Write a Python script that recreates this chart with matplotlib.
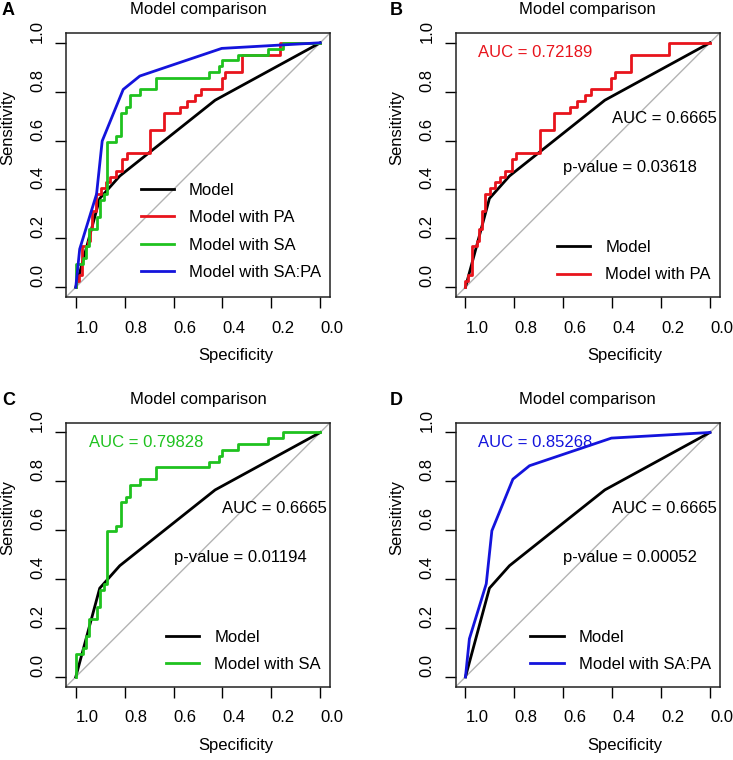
import matplotlib
matplotlib.use("Agg")
import matplotlib.pyplot as plt
from matplotlib.lines import Line2D

plt.rcParams["font.family"] = ["Liberation Sans", "DejaVu Sans"]
plt.rcParams["font.size"] = 12

# ROC curves (specificity, sensitivity)
spec_model = [1.0, 0.902, 0.82, 0.43, 0.0]
sens_model = [0.0, 0.363, 0.455, 0.765, 1.0]

# step curves: each point is the top of a vertical step
spec_pa = [1.0, 1.0, 0.988, 0.975, 0.952, 0.943, 0.933, 0.919, 0.898, 0.878, 0.858,
           0.837, 0.81, 0.792, 0.697, 0.639, 0.574, 0.544, 0.512, 0.488, 0.403,
           0.389, 0.321, 0.166, 0.0]
sens_pa = [0.0, 0.024, 0.048, 0.167, 0.190, 0.238, 0.310, 0.381, 0.405, 0.429, 0.452,
           0.476, 0.524, 0.548, 0.643, 0.714, 0.738, 0.762, 0.786, 0.810, 0.857,
           0.881, 0.952, 1.0, 1.0]

spec_sa = [1.0, 1.0, 0.972, 0.958, 0.945, 0.915, 0.901, 0.886, 0.873, 0.836, 0.816,
           0.793, 0.778, 0.737, 0.670, 0.457, 0.416, 0.402, 0.335, 0.213, 0.152, 0.0]
sens_sa = [0.0, 0.095, 0.119, 0.167, 0.238, 0.286, 0.357, 0.381, 0.595, 0.619, 0.714,
           0.738, 0.786, 0.810, 0.857, 0.881, 0.905, 0.929, 0.952, 0.976, 1.0, 1.0]

spec_sapa = [1.0, 0.984, 0.915, 0.892, 0.806, 0.738, 0.403, 0.0]
sens_sapa = [0.0, 0.156, 0.381, 0.598, 0.809, 0.864, 0.977, 1.0]

labels = ["Model", "Model with PA", "Model with SA", "Model with SA:PA"]
colors = ["black", "#e8141c", "#1fc21f", "#1414dc"]

auc_model = "0.6665"
auc_new = ["0.72189", "0.79828", "0.85268"]
p_values = ["0.03618", "0.01194", "0.00052"]

xticks = [1.0, 0.8, 0.6, 0.4, 0.2, 0.0]
yticks = [0.0, 0.2, 0.4, 0.6, 0.8, 1.0]

W, H = 733, 760
fig = plt.figure(figsize=(W / 100, H / 100), dpi=100)

# axes boxes in pixels: left, top
boxes = [(66, 33), (455.7, 33), (66, 422.7), (455.7, 422.7)]
size = 264
letters = ["A", "B", "C", "D"]

curves = [(spec_pa, sens_pa), (spec_sa, sens_sa), (spec_sapa, sens_sapa)]
steps = ["steps-post", "steps-post", "default"]


def style_axes(ax):
    ax.set_xlim(1.04, -0.04)
    ax.set_ylim(-0.04, 1.04)
    ax.axline((0, 1), (1, 0), color="#b3b3b3", lw=1, zorder=1)
    ax.set_xticks(xticks, labels=[f"{v:.1f}" for v in xticks], ha="left")
    ax.set_yticks(yticks, labels=[f"{v:.1f}" for v in yticks], rotation=90, va="bottom")
    ax.tick_params(axis="both", direction="out", length=8, width=1)
    ax.tick_params(axis="x", pad=9)
    ax.tick_params(axis="y", pad=7)
    for s in ax.spines.values():
        s.set_linewidth(1.1)
        s.set_color("#222222")
    ax.set_xlabel("Specificity", x=0.5, ha="left", labelpad=9)
    ax.set_ylabel("Sensitivity", y=0.5, ha="left", labelpad=11)
    ax.set_title("Model comparison", pad=13.5, fontsize=12)


for i, (left, top) in enumerate(boxes):
    ax = fig.add_axes([left / W, 1 - (top + size) / H, size / W, size / H])
    style_axes(ax)
    fig.text((2 if i % 2 == 0 else 390) / W, 1 - (top - 18) / H, letters[i],
             fontsize=13, fontweight="bold", ha="left", va="baseline")

    ax.plot(spec_model, sens_model, color=colors[0], lw=2, zorder=3)
    if i == 0:
        which = [0, 1, 2]
    else:
        which = [i - 1]
    for k in which:
        sx, sy = curves[k]
        ax.plot(sx, sy, color=colors[k + 1], lw=2, drawstyle=steps[k], zorder=4)

    handles = [Line2D([], [], color=colors[0], lw=2)]
    names = [labels[0]]
    for k in which:
        handles.append(Line2D([], [], color=colors[k + 1], lw=2))
        names.append(labels[k + 1])
    ax.legend(handles, names, loc="lower right",
              bbox_to_anchor=(0.966, 0.064 if i == 0 else 0.055),
              frameon=False, handlelength=2.0, handletextpad=0.9,
              labelspacing=0.75, borderpad=0, borderaxespad=0, fontsize=12)

    if i > 0:
        k = i - 1
        ax.text(0.947, 0.96, f"AUC = {auc_new[k]}", color=colors[k + 1],
                ha="left", va="center", fontsize=12)
        ax.text(0.40, 0.69, f"AUC = {auc_model}", color="black",
                ha="left", va="center", fontsize=12)
        ax.text(0.60, 0.49, f"p-value = {p_values[k]}", color="black",
                ha="left", va="center", fontsize=12)

fig.savefig("out.png", dpi=100)
